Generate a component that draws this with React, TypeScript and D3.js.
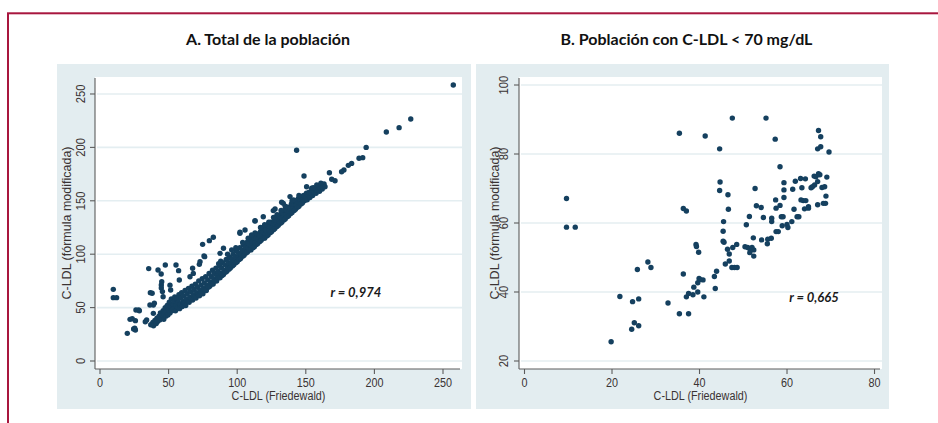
import React from 'react';
import * as d3 from 'd3';

// ---------- DATA ----------
const xTicksA = [0, 50, 100, 150, 200, 250];
const yTicksA = [0, 50, 100, 150, 200, 250];
const xTicksB = [0, 20, 40, 60, 80];
const yTicksB = [20, 40, 60, 80, 100];

const titleA = 'A. Total de la población';
const titleB = 'B. Población con C-LDL < 70 mg/dL';
const xLabel = 'C-LDL (Friedewald)';
const yLabel = 'C-LDL (fórmula modificada)';
const rTextA = 'r = 0,974';
const rTextB = 'r = 0,665';
const rPosA: [number, number] = [168, 60];
const rPosB: [number, number] = [60.5, 37];

// Panel A: dense band of observations (x = Friedewald, y = modified formula)
const bandA: [number, number][] = [
  [37, 34], [38.5, 36], [39, 33], [40, 38], [41, 35], [41.5, 40], [42, 37], [43, 42], [43.5, 38.5], [44, 45],
  [45, 40], [45.5, 43], [46, 47], [46.5, 39], [47, 44], [47.5, 50], [48, 42], [48.5, 46], [49, 52], [49.5, 43],
  [50, 48], [50.5, 55], [51, 45], [51.5, 51], [52, 58], [52.5, 47], [53, 53], [53.5, 49], [54, 56], [54.5, 60],
  [55, 47], [55.5, 52], [56, 58], [56.5, 50], [57, 55], [57.5, 62], [58, 49], [58.5, 53], [59, 59], [59.5, 64],
  [60, 51], [60.5, 56], [61, 61], [61.5, 54], [62, 66], [62.5, 52], [63, 58], [63.5, 63], [64, 56], [64.5, 68],
  [65, 55], [65.5, 60], [66, 65], [66.5, 58], [67, 70], [67.5, 57], [68, 62], [68.5, 67], [69, 60], [69.5, 72],
  [70, 59], [70.5, 64], [71, 69], [71.5, 62], [72, 75], [72.5, 61], [73, 66], [73.5, 71], [74, 64], [74.5, 77],
  [75, 63], [75.5, 68], [76, 73], [76.5, 66], [77, 79], [77.5, 66], [78, 71], [78.5, 76], [79, 69], [79.5, 82],
  [80, 70], [80.5, 74], [81, 79], [81.5, 72], [82, 85], [82.5, 72], [83, 77], [83.5, 82], [84, 75], [84.5, 87],
  [85, 75], [85.5, 80], [86, 84], [86.5, 78], [87, 89], [87.5, 78], [88, 82], [88.5, 87], [89, 80], [89.5, 92],
  [90, 81], [90.5, 85], [91, 90], [91.5, 83], [92, 95], [92.5, 84], [93, 88], [93.5, 92], [94, 86], [94.5, 97],
  [95, 87], [95.5, 91], [96, 95], [96.5, 89], [97, 100], [97.5, 90], [98, 94], [98.5, 98], [99, 92], [99.5, 103],
  [100, 93], [100.5, 97], [101, 101], [101.5, 95], [102, 106], [102.5, 96], [103, 100], [103.5, 104], [104, 98], [104.5, 109],
  [105, 99], [105.5, 103], [106, 107], [106.5, 101], [107, 111], [107.5, 102], [108, 106], [108.5, 110], [109, 104], [109.5, 114],
  [110, 104], [110.5, 108], [111, 112], [111.5, 106], [112, 116], [112.5, 107], [113, 111], [113.5, 115], [114, 109], [114.5, 119],
  [115, 110], [115.5, 114], [116, 118], [116.5, 112], [117, 121], [117.5, 113], [118, 117], [118.5, 121], [119, 115], [119.5, 125],
  [120, 115], [120.5, 119], [121, 123], [121.5, 117], [122, 127], [122.5, 118], [123, 122], [123.5, 126], [124, 120], [124.5, 130],
  [125, 121], [125.5, 125], [126, 129], [126.5, 123], [127, 132], [127.5, 124], [128, 128], [128.5, 132], [129, 126], [129.5, 135],
  [130, 127], [130.5, 131], [131, 135], [131.5, 129], [132, 138], [132.5, 130], [133, 134], [133.5, 138], [134, 132], [134.5, 141],
  [135, 133], [135.5, 137], [136, 141], [136.5, 135], [137, 144], [137.5, 136], [138, 140], [138.5, 144], [139, 138], [139.5, 147],
  [140, 139], [140.5, 143], [141, 147], [141.5, 141], [142, 150], [142.5, 142], [143, 146], [143.5, 149], [144, 144], [144.5, 152],
  [145, 145], [145.5, 148], [146, 151], [146.5, 147], [147, 154], [147.5, 148], [148, 151], [148.5, 155], [149, 150], [150, 153],
  [150.5, 157], [151, 151], [152, 155], [152.5, 158], [153, 153], [154, 157], [154.5, 160], [155, 155], [156, 158], [157, 161],
  [157.5, 157], [158, 160], [159, 163], [160, 159], [160.5, 162], [161.5, 165], [162, 161], [163, 164],
  [86.5, 91], [93, 100], [99, 106], [104, 111], [108, 115], [113, 120], [117, 125], [123, 130], [129, 137],
  [135, 145], [140, 150], [145, 155], [88, 93.5], [96, 104], [110.5, 118], [120, 127.5], [126.5, 134.5], [132, 141],
];

// Panel A: scattered observations away from the band
const scatterA: [number, number][] = [
  [257.5, 258.4], [226.5, 226.6], [218, 218.5], [208.7, 214.4], [194, 200], [191.5, 190.4], [188.8, 189.8],
  [183.4, 185], [181, 183.2], [177.8, 178.8], [176.1, 177.2], [167.2, 176.3], [168.9, 170.1], [171.3, 168.8],
  [163.3, 165.7], [161.6, 163.2], [164, 163.2], [143.3, 197.3], [148.7, 173.2],
  [74.8, 109.2], [79.7, 112.7], [82.6, 115.8], [35.5, 86.5], [42.3, 85.2], [47.6, 89.9], [55.4, 89.9], [44.6, 81.5],
  [9.7, 67.1], [9.7, 59.3], [12.1, 59.3], [19.9, 25.9], [21.9, 39], [23.5, 39.5], [25.8, 37.8], [25.3, 30.6],
  [25.8, 29], [24.5, 30], [26.2, 47.8], [28.2, 47.8], [28.7, 47], [33, 36.8], [36.7, 64], [38, 63.4],
  [38.9, 52.4], [39.6, 54], [36.4, 52.4], [34, 38.4], [38.9, 44.6], [44.7, 71.2], [44.7, 68.4], [45, 74.3],
  [45.5, 65], [46, 60.2], [51, 71], [51.5, 66.5], [57.3, 84.6], [57.8, 75.8], [67.5, 86.8], [65.6, 78.9],
  [68, 82], [72.4, 90.5], [72.9, 93], [75.8, 98.3], [76.3, 97.7], [87.5, 100.8], [90, 105.5], [102, 119.5],
  [105.7, 122.7], [113, 131.4], [119, 135], [126.3, 140.8], [132.4, 148.6], [138.5, 153.9], [141, 150.7],
  [150.6, 163.2], [154.3, 161.7], [158, 164.8], [155.5, 162.3], [161, 166.4], [127.6, 142.3], [133.6, 147.6],
  [113, 131], [102, 120.5],
];

// Panel B: population with C-LDL < 70 mg/dL
const pointsB: [number, number][] = [
  [9.6, 67.1], [9.6, 58.8], [11.6, 58.8], [19.8, 25.6], [21.8, 38.7], [24.7, 37.2], [26.1, 38.0], [25.8, 46.5],
  [24.5, 29.2], [25.1, 31.1], [26.1, 30.2], [28.2, 48.7], [28.9, 47.1], [32.8, 36.8], [35.4, 86.0], [35.4, 33.7],
  [36.3, 45.2], [36.3, 64.2], [37.0, 63.5], [37.5, 33.7], [37.0, 38.6], [37.5, 39.6],
  [38.7, 41.4], [38.5, 39.2], [39.2, 53.8], [39.3, 53.2], [39.8, 51.5], [39.6, 40.0], [39.6, 42.7], [39.9, 43.9],
  [40.2, 43.6], [40.8, 43.5], [41.0, 38.6], [43.4, 44.5], [43.9, 46.0], [43.6, 41.0], [41.3, 85.2], [44.6, 81.5],
  [44.7, 71.9], [44.6, 69.4], [46.5, 68.2], [46.6, 64.0], [45.5, 60.4], [45.4, 57.6], [45.4, 54.7], [45.6, 54.4],
  [46.4, 52.4], [46.8, 51.0], [45.9, 48.1], [46.8, 49.0], [47.5, 90.4], [47.6, 52.9], [48.5, 53.8], [47.4, 47.1],
  [48.0, 47.1], [48.6, 47.1],
  [50.7, 59.5], [51.4, 61.9], [50.4, 53.1], [51.0, 52.9], [51.5, 52.5], [52.0, 52.9], [52.4, 52.2], [51.5, 51.4],
  [52.4, 50.4], [52.3, 55.7], [52.7, 70.0], [53.0, 65.0], [54.1, 64.5], [54.6, 61.6], [54.2, 55.1], [55.2, 90.4],
  [55.5, 54.0], [55.6, 55.3], [56.4, 55.6], [56.5, 60.4], [56.5, 61.4], [57.3, 84.3], [57.4, 66.7], [57.5, 64.3],
  [57.5, 57.5], [58.0, 57.5], [58.4, 76.3], [58.4, 65.1], [58.7, 61.8], [59.1, 61.8], [59.3, 71.7], [59.3, 69.6],
  [59.3, 67.4], [58.9, 59.2], [60.0, 59.6], [60.2, 58.7], [61.1, 60.4], [61.3, 69.8], [61.6, 64.0], [61.9, 72.1],
  [62.3, 61.8], [62.7, 61.8], [63.1, 72.9], [63.4, 70.2], [63.2, 66.7], [63.7, 66.5], [64.2, 72.8], [64.0, 64.1],
  [64.3, 66.5], [64.9, 64.7], [64.9, 64.3], [65.8, 70.5], [66.3, 71.0], [66.6, 73.4], [67.0, 72.0], [67.2, 86.8],
  [67.7, 85.0], [67.0, 81.5], [67.7, 82.1], [69.6, 80.6], [67.2, 74.3], [67.5, 74.0], [68.0, 70.3], [68.6, 70.5],
  [69.1, 73.3], [67.0, 65.3], [68.3, 65.7], [68.8, 65.7], [68.9, 67.8], [65.5, 70.2], [66.2, 73.6],
];

// ---------- STYLE ----------
const MARKER = '#15405f';
const PANEL_BG = '#e3edf0';
const GRID = '#e4eef1';
const AXIS = '#5c5c5c';
const TEXT = '#3a3333';
const FRAME = '#a8163e';
const AX_FONT = '"Liberation Sans", Arial, sans-serif';
const TITLE_FONT = 'Lato, "Open Sans", sans-serif';

type PanelProps = {
  bg: { x: number; y: number; w: number; h: number };
  plot: { left: number; right: number; top: number; bottom: number };
  xDomain: [number, number];
  yDomain: [number, number];
  xTicks: number[];
  yTicks: number[];
  series: [number, number][][];
  title: string;
  rText: string;
  rPos: [number, number];
  yTickGap: number;
  yTitleGap: number;
};

function Panel(p: PanelProps) {
  const x = d3.scaleLinear().domain(p.xDomain).range([p.plot.left, p.plot.right]);
  const y = d3.scaleLinear().domain(p.yDomain).range([p.plot.bottom, p.plot.top]);
  const cx = (p.bg.x + p.bg.x + p.bg.w) / 2 + 4;
  const plotMidX = (p.plot.left + p.plot.right) / 2;
  const plotMidY = (p.plot.top + p.plot.bottom) / 2;
  return (
    <g>
      <text x={cx} y={45} textAnchor="middle" fontFamily={TITLE_FONT} fontWeight={700} fontSize={16} fill="#111">
        {p.title}
      </text>
      <rect x={p.bg.x} y={p.bg.y} width={p.bg.w} height={p.bg.h} fill={PANEL_BG} />
      <rect x={p.plot.left} y={p.plot.top} width={p.plot.right - p.plot.left} height={p.plot.bottom - p.plot.top} fill="#fff" />
      {p.yTicks.map((t) => (
        <line key={'g' + t} x1={p.plot.left + 2} x2={p.plot.right} y1={y(t)} y2={y(t)} stroke={GRID} strokeWidth={1.6} />
      ))}
      {p.series.map((s, si) =>
        s.map((d, i) => <circle key={si + '-' + i} cx={x(d[0])} cy={y(d[1])} r={2.7} fill={MARKER} />)
      )}
      {/* axes */}
      <line x1={p.plot.left} x2={p.plot.left} y1={p.plot.top + 1} y2={p.plot.bottom} stroke={AXIS} strokeWidth={1.1} />
      <line x1={p.plot.left} x2={p.plot.right - 2} y1={p.plot.bottom} y2={p.plot.bottom} stroke={AXIS} strokeWidth={1.1} />
      {p.yTicks.map((t) => (
        <g key={'y' + t}>
          <line x1={p.plot.left - 5} x2={p.plot.left} y1={y(t)} y2={y(t)} stroke={AXIS} strokeWidth={1.1} />
          <text
            transform={`translate(${p.plot.left - p.yTickGap},${y(t)}) rotate(-90) scale(0.9,1)`}
            textAnchor="middle"
            fontFamily={AX_FONT}
            fontSize={12.5}
            fill={TEXT}
          >
            {t}
          </text>
        </g>
      ))}
      {p.xTicks.map((t) => (
        <g key={'x' + t}>
          <line x1={x(t)} x2={x(t)} y1={p.plot.bottom} y2={p.plot.bottom + 5} stroke={AXIS} strokeWidth={1.1} />
          <text
            transform={`translate(${x(t)},${p.plot.bottom + 18}) scale(0.8,1)`}
            textAnchor="middle"
            fontFamily={AX_FONT}
            fontSize={13.5}
            fill={TEXT}
          >
            {t}
          </text>
        </g>
      ))}
      <text
        transform={`translate(${plotMidX},${p.plot.bottom + 30.5}) scale(0.8,1)`}
        textAnchor="middle"
        fontFamily={AX_FONT}
        fontSize={13.5}
        fill={TEXT}
      >
        {xLabel}
      </text>
      <text
        transform={`translate(${p.plot.left - p.yTitleGap},${plotMidY}) rotate(-90)`}
        textAnchor="middle"
        fontFamily={AX_FONT}
        fontSize={12.5}
        fill={TEXT}
      >
        {yLabel}
      </text>
      <text
        x={x(p.rPos[0])}
        y={y(p.rPos[1])}
        fontFamily={TITLE_FONT}
        fontWeight={700}
        fontStyle="italic"
        fontSize={13}
        fill="#1a1a1a"
      >
        {p.rText}
      </text>
    </g>
  );
}

export default function App() {
  return (
    <svg width={938} height={423} style={{ position: 'absolute', left: 0, top: 0, background: '#fff' }}>
      <rect x={0} y={0} width={938} height={423} fill="#fff" />
      <rect x={8} y={13.3} width={960} height={440} fill="none" stroke={FRAME} strokeWidth={2} />
      <Panel
        bg={{ x: 57, y: 64, w: 414, h: 345 }}
        plot={{ left: 95, right: 462, top: 77, bottom: 369 }}
        xDomain={[-3.644, 263.85]}
        yDomain={[-7.49, 265.9]}
        xTicks={xTicksA}
        yTicks={yTicksA}
        series={[bandA, scatterA]}
        title={titleA}
        rText={rTextA}
        rPos={rPosA}
        yTickGap={10}
        yTitleGap={24}
      />
      <Panel
        bg={{ x: 476, y: 64, w: 413, h: 345 }}
        plot={{ left: 519, right: 882, top: 77, bottom: 369 }}
        xDomain={[-1.257, 81.71]}
        yDomain={[17.68, 102.32]}
        xTicks={xTicksB}
        yTicks={yTicksB}
        series={[pointsB]}
        title={titleB}
        rText={rTextB}
        rPos={rPosB}
        yTickGap={11.5}
        yTitleGap={20}
      />
    </svg>
  );
}
